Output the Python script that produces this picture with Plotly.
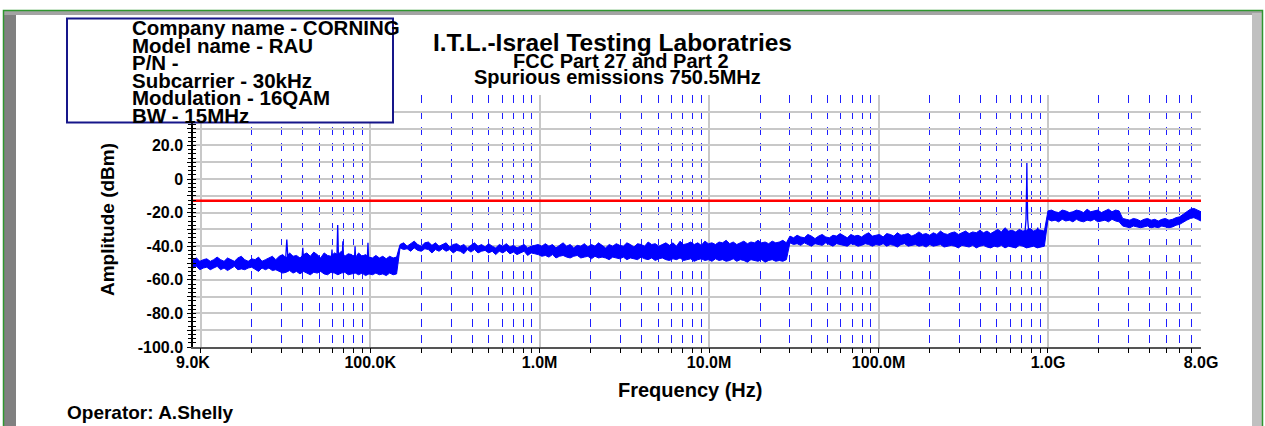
import numpy as np
import plotly.graph_objects as go

# ---------------- data ----------------
seg_edges_hz = [9e3, 150e3, 30e6, 1e9, 8e9]

# upper / lower envelope of the noise band, per sweep segment (dBm)
seg1_upper = [-48, -47, -49, -48, -47.5, -49, -48, -46.5, -48, -49, -47, -48, -49, -47, -46, -48, -49, -47.5,
              -48, -46.5, -49, -48, -47, -46, -48,
              -46, -45, -47, -44, -46, -45.5, -47, -45, -44, -46, -43.5, -45, -47, -44, -45.5, -46, -44, -45,
              -43, -46, -44.5, -45, -47, -44, -46, -45, -46.5, -47, -45.5, -47, -46, -47.5, -46, -47, -46.5]
seg1_lower = [-53, -52, -54, -53, -52.5, -54, -53, -52, -54, -53, -54.5, -53, -52, -54, -53.5, -54, -53, -52.5,
              -54, -55, -53, -54, -53, -54.5, -54,
              -55, -56, -55.5, -54.5, -56, -55, -56.5, -55, -56, -57, -55.5, -56, -55, -56.5, -57, -55.5, -56,
              -57, -56, -55.5, -57, -56.5, -56, -57, -56, -57.5, -56.5, -57, -56, -57, -56.5, -57.5, -56, -57, -56.5]
seg2_upper = [-39, -38, -40, -38.5, -37, -39, -40, -38, -37.5, -39.5, -38, -40, -39, -38, -40.5, -39, -38.5, -40,
              -39, -41, -39.5, -38, -40, -39, -40.5, -38.5, -40, -41, -39, -40, -38.5, -40.5, -39.5, -41, -40, -39,
              -41, -40, -39.5,
              -39, -40, -38.5, -40, -39, -41, -39.5, -38, -40, -39, -41, -39.5, -40, -38.5, -40.5, -39, -40, -38,
              -39.5, -41, -39, -40, -38.5, -39.5, -40, -38, -39, -40.5, -38.5, -39, -40, -37.5, -39, -38.5, -40,
              -39, -38, -39.5, -38, -40, -37, -39, -38.5, -37.5, -39, -38, -39.5, -37, -38.5, -38, -39, -37.5, -38,
              -36.5, -38.5, -37.5, -39, -38, -37, -38.5, -37.5, -38, -36.5, -38, -37.5, -38.5, -37, -38, -37.5,
              -36.5, -38]
seg2_lower = [-41, -42, -41.5, -43, -41, -42.5, -43, -41.5, -42, -44, -42, -43, -41.5, -43, -42, -44, -42.5, -43,
              -44.5, -42, -43.5, -42, -44, -43, -42.5, -44, -43, -45, -43, -44, -42.5, -44.5, -43.5, -45, -44, -43,
              -45.5, -44, -44.5,
              -45, -46, -45.5, -46.5, -45, -47, -46, -45.5, -46.5, -47, -46, -45.5, -47, -46.5, -46, -47.5, -46,
              -47, -46.5, -47, -48, -46.5, -47, -47.5, -46.5, -48, -47, -47.5, -48, -46.5, -47.5, -48, -47, -48.5,
              -47.5, -47, -48, -48.5, -47.5, -48, -47, -48.5, -48, -47.5, -49, -48, -47.5, -48.5, -48, -49, -47.5,
              -48.5, -48, -49, -48.5, -47.5, -49, -48, -48.5, -49.5, -48, -48.5, -49, -48, -49.5, -48.5, -48, -49,
              -48.5, -49, -48]
seg3_upper = [-34, -35, -33.5, -34.5, -35, -33, -34, -35.5, -34, -33, -34.5, -35, -33.5, -34, -32.5, -34, -35, -33,
              -34, -33.5, -34.5, -33, -32, -34, -33.5, -33, -34.5, -32.5, -33, -34, -32, -33.5, -33, -32.5, -34,
              -33, -31.5, -33, -32.5, -33.5, -32, -33, -31, -32.5, -33, -32, -31.5, -33, -32, -31, -32.5, -31.5,
              -32, -30.5, -32, -31, -32.5, -31, -30, -31.5, -29, -31, -30.5, -31.5, -30, -31, -30.5, -29.5, -31,
              -30, -30.5, -31]
seg3_lower = [-38, -39, -38.5, -39.5, -38, -39, -40, -38.5, -39, -39.5, -38, -39, -40, -38.5, -39, -39.5, -40,
              -38.5, -39, -40, -39.5, -38.5, -39, -40, -39, -39.5, -38.5, -40, -39, -39.5, -40.5, -39, -38.5, -40,
              -39.5, -39, -40, -39.5, -40.5, -39, -40, -39.5, -39, -40.5, -40, -39.5, -40, -41, -39.5, -40, -40.5,
              -39.5, -41, -40, -39.5, -40.5, -41, -40, -40.5, -39.5, -41, -40, -40.5, -41, -39.5, -40, -41, -40.5,
              -40, -41, -40.5, -40]
seg4_upper = [-19, -18.5, -19.5, -20, -18.5, -19, -20, -19.5, -18.5, -19, -20, -18, -19.5, -19, -18.5, -20, -19,
              -18, -19.5, -18.5, -19,
              -23.5, -24, -24.5, -23.5, -24, -25, -24, -23.5, -24.5, -24, -25, -24, -23.5, -24.5, -24, -23, -22.5,
              -21, -19.5, -18, -17.5, -18.5, -19.5]
seg4_lower = [-24, -25, -24.5, -25.5, -24, -25, -24.5, -25.5, -24, -25, -25.5, -24.5, -25, -24, -25.5, -25, -24.5,
              -25.5, -24, -25, -25.5,
              -28, -28.5, -29, -28, -28.5, -29, -28.5, -28, -29, -28.5, -29, -28, -28.5, -29, -28.5, -27.5, -27,
              -25.5, -24.5, -23.5, -23, -24, -25]

# narrow spurious peaks: (freq points, level points) per peak
spike_hz = [
    [31.6e3, 32.2e3, 32.8e3],
    [39.4e3, 40e3, 40.6e3],
    [58.8e3, 59.5e3, 60.2e3],
    [63.5e3, 64.3e3, 65.1e3],
    [68.2e3, 69e3, 69.8e3],
    [80.5e3, 81.4e3, 82.3e3],
    [96e3, 97e3, 98e3],
    [855e6, 870e6, 885e6],
    [725e6, 742e6, 748e6, 750.5e6, 753e6, 759e6, 778e6],
]
spike_dbm = [
    [-50, -36, -50],
    [-50, -41, -50],
    [-50, -42, -50],
    [-50, -27.4, -50],
    [-50, -37, -50],
    [-50, -40, -50],
    [-50, -38, -50],
    [-34, -29, -34],
    [-37, -24, -4, 9.5, -4, -24, -37],
]

limit_hz = [9e3, 8e9]
limit_dbm = [-13, -13]

x_tickvals = [9e3, 1e4, 1e5, 1e6, 1e7, 1e8, 1e9, 8e9]
x_ticktext = ["9.0K", "", "100.0K", "1.0M", "10.0M", "100.0M", "1.0G", "8.0G"]
x_minorvals = [m * 10 ** e for e in range(4, 10) for m in range(2, 10) if m * 10 ** e < 8e9]
x_tickmarks = [1e4, 1e5, 1e6, 1e7, 1e8, 1e9] + x_minorvals
y_tickvals = list(range(-100, 51, 10))
y_ticktext = ["-100.0", "", "-80.0", "", "-60.0", "", "-40.0", "", "-20.0", "", "0", "", "20.0", "", "", ""]

info_lines = ["Company name - CORNING", "Model name - RAU", "P/N -",
              "Subcarrier - 30kHz", "Modulation - 16QAM", "BW - 15MHz"]

# ---------------- sweep frequency grid ----------------
uppers = [seg1_upper, seg2_upper, seg3_upper, seg4_upper]
lowers = [seg1_lower, seg2_lower, seg3_lower, seg4_lower]
band_hz, band_up, band_lo = [], [], []
for i in range(4):
    last = i == 3
    f = np.geomspace(seg_edges_hz[i], seg_edges_hz[i + 1], len(uppers[i]), endpoint=last)
    band_hz.extend(f.tolist())
    band_up.extend(uppers[i])
    band_lo.extend(lowers[i])

sp_x, sp_y = [], []
for fx, fy in zip(spike_hz, spike_dbm):
    sp_x.extend(fx + [None])
    sp_y.extend(fy + [None])

# ---------------- layout helpers ----------------
W, H = 1265, 426
L, R, T, B = 193, 64, 95, 79
PW, PH = W - L - R, H - T - B


def px(x):
    return (x - L) / PW


def py(y):
    return (H - B - y) / PH


FONT = "Liberation Sans, Arial, sans-serif"
BLUE = "#0000ff"

fig = go.Figure()
fig.add_trace(go.Scatter(x=band_hz, y=band_lo, mode="lines", line=dict(color=BLUE, width=1),
                         showlegend=False, hoverinfo="skip"))
fig.add_trace(go.Scatter(x=band_hz, y=band_up, mode="lines", line=dict(color=BLUE, width=1),
                         fill="tonexty", fillcolor=BLUE, showlegend=False, hoverinfo="skip"))
fig.add_trace(go.Scatter(x=sp_x, y=sp_y, mode="lines", line=dict(color=BLUE, width=1.3),
                         connectgaps=False, showlegend=False, hoverinfo="skip"))
fig.add_trace(go.Scatter(x=limit_hz, y=limit_dbm, mode="lines",
                         line=dict(color="#ff0000", width=2.5), showlegend=False, hoverinfo="skip"))

xr = [np.log10(9e3), np.log10(8e9)]
fig.update_layout(
    width=W, height=H,
    margin=dict(l=L, r=R, t=T, b=B, pad=0),
    paper_bgcolor="white", plot_bgcolor="white",
    font=dict(family=FONT, color="black"),
    xaxis=dict(
        type="log", range=xr,
        tickmode="array", tickvals=x_tickvals, ticktext=x_ticktext,
        tickfont=dict(size=16, weight="bold"),
        showgrid=True, gridcolor="#c8c8c8", gridwidth=1.5,
        ticks="", showline=True, linecolor="#555555", linewidth=2, zeroline=False,
        minor=dict(tickvals=x_minorvals, ticks="", showgrid=True,
                   gridcolor="#1f1fff", gridwidth=1, griddash="8px,8px"),
    ),
    xaxis2=dict(
        type="log", range=xr, overlaying="x", anchor="y", side="bottom",
        tickmode="array", tickvals=x_tickmarks, showticklabels=False,
        ticks="outside", ticklen=5, tickcolor="black", tickwidth=1,
        showgrid=False, showline=False, zeroline=False,
    ),
    yaxis=dict(
        range=[-100, 50], tickmode="array", tickvals=y_tickvals, ticktext=y_ticktext,
        tickfont=dict(size=16, weight="bold"), ticklabelstandoff=1,
        showgrid=True, gridcolor="#c8c8c8", gridwidth=1.5,
        ticks="outside", ticklen=4, tickcolor="black",
        showline=True, linecolor="black", linewidth=1.5, zeroline=False,
        minor=dict(dtick=2.5, tick0=0, ticks="outside", ticklen=3, tickcolor="black", showgrid=False),
    ),
    yaxis2=dict(
        range=[-100, 50], overlaying="y", side="left", anchor="x",
        tickmode="linear", dtick=2.5, tick0=0, ticks="inside", ticklen=3, tickcolor="black",
        showticklabels=False, showgrid=False, showline=False, zeroline=False,
    ),
)
# invisible trace so the overlay axes are drawn
fig.add_trace(go.Scatter(x=limit_hz, y=limit_dbm, xaxis="x2", yaxis="y2", mode="lines",
                         line=dict(width=0), opacity=0, showlegend=False, hoverinfo="skip"))

shapes = []
shapes.append(dict(type="rect", xref="paper", yref="paper", x0=px(4), x1=px(16), y0=py(440), y1=py(11),
                   fillcolor="#808080", line=dict(width=0), layer="above"))
shapes.append(dict(type="rect", xref="paper", yref="paper", x0=px(4), x1=px(1262), y0=py(15), y1=py(11),
                   fillcolor="#a3a3a3", line=dict(width=0), layer="above"))
shapes.append(dict(type="rect", xref="paper", yref="paper", x0=px(1252), x1=px(1262), y0=py(440), y1=py(13),
                   fillcolor="#c0c0c0", line=dict(width=0), layer="above"))
shapes.append(dict(type="rect", xref="paper", yref="paper", x0=px(3.5), x1=px(1262.5), y0=py(440), y1=py(10.5),
                   fillcolor="rgba(0,0,0,0)", line=dict(color="#2f962f", width=1.5), layer="above"))
shapes.append(dict(type="rect", xref="paper", yref="paper", x0=px(67), x1=px(393), y0=py(122.5), y1=py(18.5),
                   fillcolor="white", line=dict(color="#16168a", width=2), layer="above"))
fig.update_layout(shapes=shapes)

ann = []
for i, t in enumerate(info_lines):
    ann.append(dict(text=t, xref="paper", yref="paper", x=px(130), y=py(27.5 + 17.5 * i),
                    xanchor="left", yanchor="middle", showarrow=False,
                    font=dict(size=20.5, weight="bold", color="black")))
ann.append(dict(text="I.T.L.-Israel Testing Laboratries", xref="paper", yref="paper",
                x=px(612), y=py(42.5), xanchor="center", yanchor="middle", showarrow=False,
                font=dict(size=24.5, weight="bold")))
ann.append(dict(text="FCC Part 27 and Part 2", xref="paper", yref="paper",
                x=px(621), y=py(60.5), xanchor="center", yanchor="middle", showarrow=False,
                font=dict(size=20, weight="bold")))
ann.append(dict(text="Spurious emissions 750.5MHz", xref="paper", yref="paper",
                x=px(617), y=py(77), xanchor="center", yanchor="middle", showarrow=False,
                font=dict(size=20, weight="bold")))
ann.append(dict(text="Frequency (Hz)", xref="paper", yref="paper",
                x=px(690), y=py(390), xanchor="center", yanchor="middle", showarrow=False,
                font=dict(size=20, weight="bold")))
ann.append(dict(text="Amplitude (dBm)", xref="paper", yref="paper", textangle=-90,
                x=px(107), y=py(220), xanchor="center", yanchor="middle", showarrow=False,
                font=dict(size=19, weight="bold")))
ann.append(dict(text="Operator: A.Shelly", xref="paper", yref="paper",
                x=px(65), y=py(412), xanchor="left", yanchor="middle", showarrow=False,
                font=dict(size=19, weight="bold")))
fig.update_layout(annotations=ann)

fig.write_html("out.html", config={"displayModeBar": False},
               post_script="document.body.style.margin='0px';")
